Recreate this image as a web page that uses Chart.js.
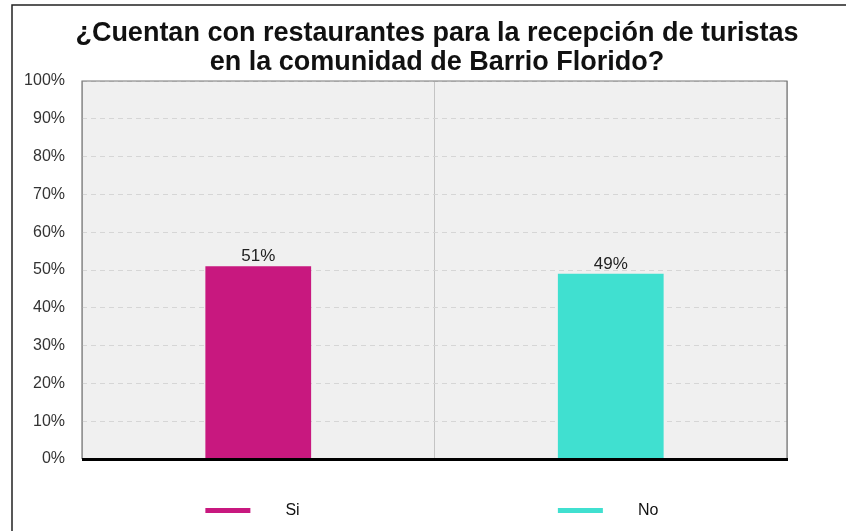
<!DOCTYPE html>
<html>
<head>
<meta charset="utf-8">
<script src="https://cdn.jsdelivr.net/npm/chart.js@4.4.0/dist/chart.umd.min.js"></script>
<style>
  html, body { margin: 0; padding: 0; background: #fff; }
  #wrap { width: 846px; height: 531px; }
</style>
</head>
<body>
<div id="wrap"><canvas id="grafico" width="846" height="531"></canvas></div>
<script>
const tituloLinhas = ['¿Cuentan con restaurantes para la recepción de turistas', 'en la comunidad de Barrio Florido?'];
const categorias = ['Si', 'No'];
const valores = [51, 49];
const cores = ['#c8187f', '#40e0d0'];
const ticksY = [0, 10, 20, 30, 40, 50, 60, 70, 80, 90, 100];

const fonte = "'Liberation Sans', Arial, sans-serif";

// fundo cinza da area do grafico + moldura da pagina
const fundoPlugin = {
  id: 'fundo',
  beforeDraw(chart) {
    const { ctx, chartArea: a } = chart;
    ctx.save();
    ctx.fillStyle = '#fff';
    ctx.fillRect(0, 0, chart.width, chart.height);
    ctx.fillStyle = '#f0f0f0';
    ctx.fillRect(a.left, a.top, a.right - a.left, a.bottom - a.top);
    // moldura externa (so esquerda e topo aparecem)
    ctx.strokeStyle = '#222';
    ctx.lineWidth = 1.5;
    ctx.beginPath();
    ctx.moveTo(12, chart.height);
    ctx.lineTo(12, 5);
    ctx.lineTo(chart.width, 5);
    ctx.stroke();
    ctx.restore();
  },
  afterDraw(chart) {
    const { ctx, chartArea: a } = chart;
    ctx.save();
    // borda da area
    ctx.strokeStyle = '#777';
    ctx.lineWidth = 1.2;
    ctx.beginPath();
    ctx.moveTo(a.left, a.bottom);
    ctx.lineTo(a.left, a.top);
    ctx.lineTo(a.right, a.top);
    ctx.lineTo(a.right, a.bottom);
    ctx.stroke();
    // eixo inferior grosso
    ctx.strokeStyle = '#000';
    ctx.lineWidth = 3;
    ctx.beginPath();
    ctx.moveTo(a.left, a.bottom + 0.5);
    ctx.lineTo(a.right + 1, a.bottom + 0.5);
    ctx.stroke();

    // titulo
    ctx.fillStyle = '#111';
    ctx.font = 'bold 27px ' + fonte;
    ctx.textAlign = 'center';
    ctx.textBaseline = 'middle';
    ctx.fillText(tituloLinhas[0], 437, 34);
    ctx.fillText(tituloLinhas[1], 437, 63);

    // rotulos das barras + legenda
    const meta = chart.getDatasetMeta(0);
    meta.data.forEach((bar, i) => {
      ctx.fillStyle = '#222';
      ctx.font = '17px ' + fonte;
      ctx.textAlign = 'center';
      ctx.textBaseline = 'bottom';
      ctx.fillText(valores[i] + '%', bar.x, bar.y - 1);

      const esq = bar.x - bar.width / 2;
      ctx.fillStyle = cores[i];
      ctx.fillRect(esq, 508, 45, 5);
      ctx.fillStyle = '#111';
      ctx.font = '16px ' + fonte;
      ctx.textAlign = 'left';
      ctx.textBaseline = 'middle';
      ctx.fillText(categorias[i], esq + 80, 511);
    });
    ctx.restore();
  }
};

new Chart(document.getElementById('grafico').getContext('2d'), {
  type: 'bar',
  data: {
    labels: categorias,
    datasets: [{
      data: valores,
      backgroundColor: cores,
      categoryPercentage: 0.3,
      barPercentage: 1
    }]
  },
  options: {
    responsive: false,
    animation: false,
    layout: { padding: { left: 12, right: 59, top: 81, bottom: 72 } },
    plugins: {
      legend: { display: false },
      title: { display: false },
      tooltip: { enabled: false }
    },
    scales: {
      x: {
        offset: true,
        grid: { offset: true, color: '#c4c4c4', lineWidth: 1, drawTicks: false },
        border: { display: false },
        ticks: { display: false },
        afterFit(s) { s.height = 0; }
      },
      y: {
        min: 0,
        max: 100,
        afterBuildTicks(s) { s.ticks = ticksY.map(v => ({ value: v })); },
        grid: { color: '#d6d6d6', lineWidth: 1, drawTicks: false },
        border: { display: false, dash: [5, 4] },
        ticks: {
          padding: 17,
          color: '#333',
          font: { family: fonte, size: 16 },
          callback: v => v + '%'
        },
        afterFit(s) { s.width = 70; }
      }
    }
  },
  plugins: [fundoPlugin]
});
</script>
</body>
</html>
